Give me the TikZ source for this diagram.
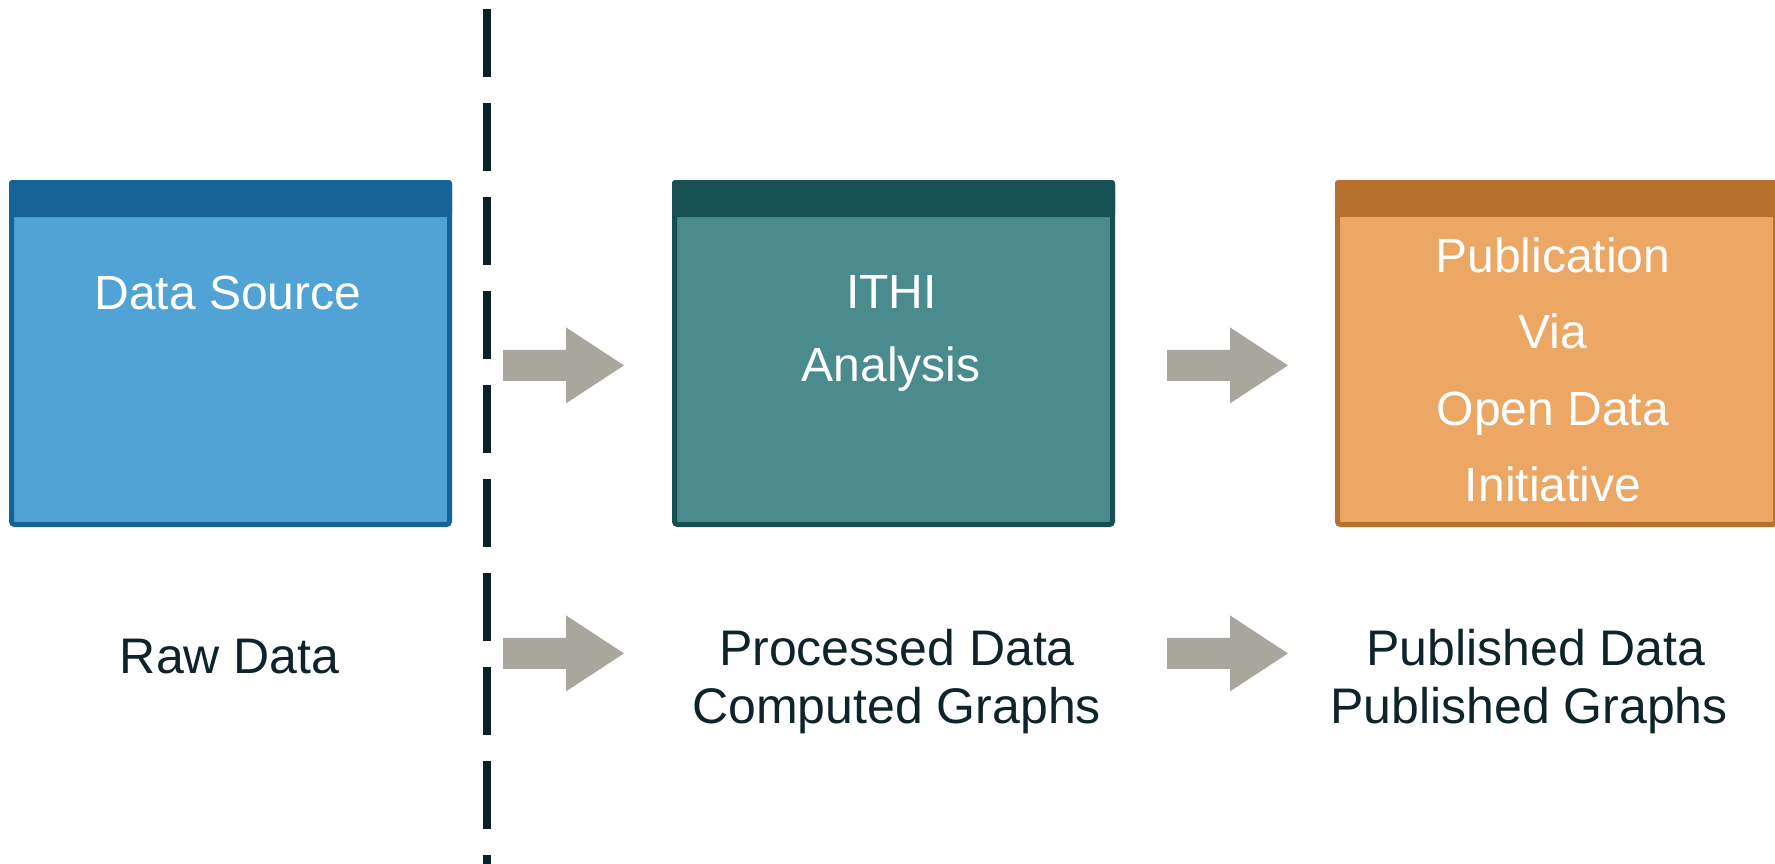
\documentclass[tikz,border=0pt]{standalone}
\usepackage{fontspec}
\setmainfont{Liberation Sans}
\usetikzlibrary{calc}
\definecolor{bluefill}{HTML}{51A3D5}
\definecolor{bluedark}{HTML}{166497}
\definecolor{tealfill}{HTML}{4A8B8D}
\definecolor{tealdark}{HTML}{165052}
\definecolor{orangefill}{HTML}{EDA765}
\definecolor{orangedark}{HTML}{B8702F}
\definecolor{arrowgray}{HTML}{A8A69D}
\definecolor{dashcol}{HTML}{0C2126}
\definecolor{labelcol}{HTML}{0F232A}
\begin{document}
\begin{tikzpicture}[x=1pt,y=-1pt,
  stagebox/.style={draw, line width=5pt, rounded corners=3pt, inner sep=0pt, outer sep=0pt,
    minimum width=438pt, minimum height=342pt},
  boxtext/.style={anchor=base, text=white, inner sep=0pt, font=\fontsize{48}{57}\selectfont},
  labeltext/.style={anchor=base, text=labelcol, inner sep=0pt, font=\fontsize{50}{58}\selectfont},
  blockarrow/.style={fill=arrowgray},
  divider/.style={draw=dashcol, line width=8.7pt, dash pattern=on 68pt off 26pt}]
\useasboundingbox (0,0) rectangle (1775,863);
\fill[white] (0,0) rectangle (1775,863);

% dashed divider
\coordinate (dtop) at (487,9.3);
\coordinate (dbot) at (487,880);
\draw[divider] (dtop) -- (dbot);

% boxes
\node[stagebox, fill=bluefill, draw=bluedark] (src) at (230.5,353.5) {};
\node[stagebox, fill=tealfill, draw=tealdark] (ithi) at (893.5,353.5) {};
\node[stagebox, fill=orangefill, draw=orangedark] (pub) at (1556.5,353.5) {};

% headers
\fill[bluedark, rounded corners=3pt] ($(src.north west)+(-2.5,-2.5)$) rectangle ($(src.north east)+(2.5,34.5)$);
\fill[tealdark, rounded corners=3pt] ($(ithi.north west)+(-2.5,-2.5)$) rectangle ($(ithi.north east)+(2.5,34.5)$);
\fill[orangedark, rounded corners=3pt] ($(pub.north west)+(-2.5,-2.5)$) rectangle ($(pub.north east)+(2.5,34.5)$);

% box texts
\node[boxtext] (t1) at (228,309.3) {Data Source};
\node[boxtext] (t2) at (891.5,308.3) {ITHI};
\node[boxtext] (t3) at (891,381.7) {Analysis};
\node[boxtext] (t4) at (1553,272.3) {Publication};
\node[boxtext] (t5) at (1553,348.3) {Via};
\node[boxtext] (t6) at (1553,425) {Open Data};
\node[boxtext] (t7) at (1553,501.7) {Initiative};

% bottom labels
\node[labeltext] (l1) at (229.7,673.3) {Raw Data};
\node[labeltext] (l2) at (897,665.7) {Processed Data};
\node[labeltext] (l3) at (896.7,723.3) {Computed Graphs};
\node[labeltext] (l4) at (1535.8,665.7) {Published Data};
\node[labeltext] (l5) at (1529,723.3) {Published Graphs};

% block arrows (tip x, centre y)
\foreach \tx/\cy in {624/365.4, 624/653.4, 1288/365.4, 1288/653.4}{
  \fill[blockarrow] (\tx-121,\cy-15.5) -- (\tx-58,\cy-15.5) -- (\tx-58,\cy-38)
    -- (\tx,\cy) -- (\tx-58,\cy+38) -- (\tx-58,\cy+15.5) -- (\tx-121,\cy+15.5) -- cycle;
}
\end{tikzpicture}
\end{document}
